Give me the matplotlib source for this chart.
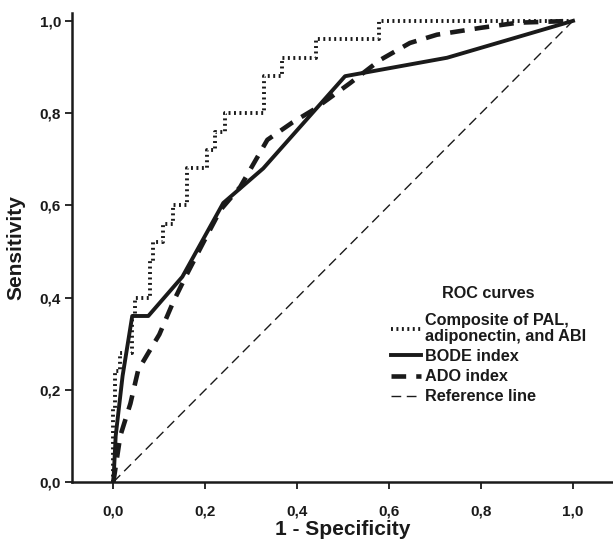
import matplotlib
matplotlib.use("Agg")
import matplotlib.pyplot as plt

plt.rcParams['font.family'] = ['Liberation Sans', 'DejaVu Sans']

# Composite of PAL, adiponectin and ABI (step ROC curve)
comp_fpr = [0, 0, 0.004, 0.004, 0.015, 0.015, 0.041, 0.041, 0.048, 0.048, 0.08, 0.08,
            0.087, 0.087, 0.107, 0.107, 0.13, 0.13, 0.161, 0.161, 0.204, 0.204, 0.222, 0.222,
            0.243, 0.243, 0.328, 0.328, 0.367, 0.367, 0.44, 0.44, 0.577, 0.577, 1.0]
comp_sens = [0, 0.16, 0.16, 0.24, 0.24, 0.28, 0.28, 0.36, 0.36, 0.40, 0.40, 0.48,
             0.48, 0.52, 0.52, 0.56, 0.56, 0.60, 0.60, 0.68, 0.68, 0.72, 0.72, 0.76,
             0.76, 0.80, 0.80, 0.88, 0.88, 0.92, 0.92, 0.96, 0.96, 1.0, 1.0]

# BODE index
bode_fpr = [0, 0.005, 0.02, 0.041, 0.076, 0.15, 0.239, 0.326, 0.504, 0.726, 1.0]
bode_sens = [0, 0.10, 0.23, 0.36, 0.36, 0.445, 0.605, 0.68, 0.88, 0.92, 1.0]

# ADO index
ado_fpr = [0, 0.015, 0.037, 0.054, 0.076, 0.10, 0.13, 0.157, 0.196, 0.233, 0.276, 0.335,
           0.39, 0.435, 0.515, 0.58, 0.645, 0.704, 0.80, 0.88, 1.0]
ado_sens = [0, 0.10, 0.17, 0.243, 0.28, 0.32, 0.39, 0.445, 0.52, 0.59, 0.64, 0.742,
            0.78, 0.807, 0.865, 0.915, 0.952, 0.97, 0.985, 0.996, 1.0]

ref_x = [0, 1]
ref_y = [0, 1]

xticks = [0.0, 0.2, 0.4, 0.6, 0.8, 1.0]
yticks = [0.0, 0.2, 0.4, 0.6, 0.8, 1.0]
tick_labels = ['0,0', '0,2', '0,4', '0,6', '0,8', '1,0']

fig = plt.figure(figsize=(6.13, 5.40), dpi=100)
ax = fig.add_axes([0.1175, 0.1074, 0.8825, 0.8685])

ax.plot(comp_fpr, comp_sens, color='#1a1a1a', lw=2.8, linestyle=(0, (0.5, 0.9)),
        dash_capstyle='butt', label='Composite of PAL,\nadiponectin, and ABI')
ax.plot(bode_fpr, bode_sens, color='#1a1a1a', lw=2.8, label='BODE index')
ax.plot(ado_fpr, ado_sens, color='#1a1a1a', lw=3.3, linestyle=(0, (3.2, 2.2)),
        label='ADO index')
ax.plot(ref_x, ref_y, color='#1a1a1a', lw=1.0, linestyle=(0, (7, 4)),
        label='Reference line')

ax.set_xlim(-0.09, 1.087)
ax.set_ylim(0, 1.017)
ax.set_xticks(xticks)
ax.set_xticklabels(tick_labels)
ax.set_yticks(yticks)
ax.set_yticklabels(tick_labels)

for s in ['top', 'right']:
    ax.spines[s].set_visible(False)
for s in ['left', 'bottom']:
    ax.spines[s].set_linewidth(1.8)
    ax.spines[s].set_color('#1a1a1a')
ax.tick_params(axis='both', direction='out', length=5, width=1.3, color='#1a1a1a',
               labelsize=11)
ax.tick_params(axis='x', pad=11)
ax.tick_params(axis='y', pad=3)
for lab in ax.get_xticklabels() + ax.get_yticklabels():
    lab.set_fontweight('bold')
    lab.set_color('#1a1a1a')

ax.set_xlabel('1 - Specificity', fontsize=15, fontweight='bold', color='#1a1a1a', labelpad=1)
ax.set_ylabel('Sensitivity', fontsize=15, fontweight='bold', color='#1a1a1a', labelpad=10)

leg = ax.legend(loc='upper left', bbox_to_anchor=(0.62, 0.492), bbox_transform=fig.transFigure,
                frameon=False, title='ROC curves', fontsize=11.7, title_fontsize=11.7,
                handlelength=1.8, handletextpad=0.25, labelspacing=0.32, borderpad=0.2)
for t in leg.get_texts():
    t.set_fontweight('bold')
    t.set_color('#1a1a1a')
    t.set_linespacing(1.05)
leg.get_title().set_fontweight('bold')
leg.get_title().set_color('#1a1a1a')
leg._legend_box.sep = 9

fig.savefig('out.png', dpi=100)
